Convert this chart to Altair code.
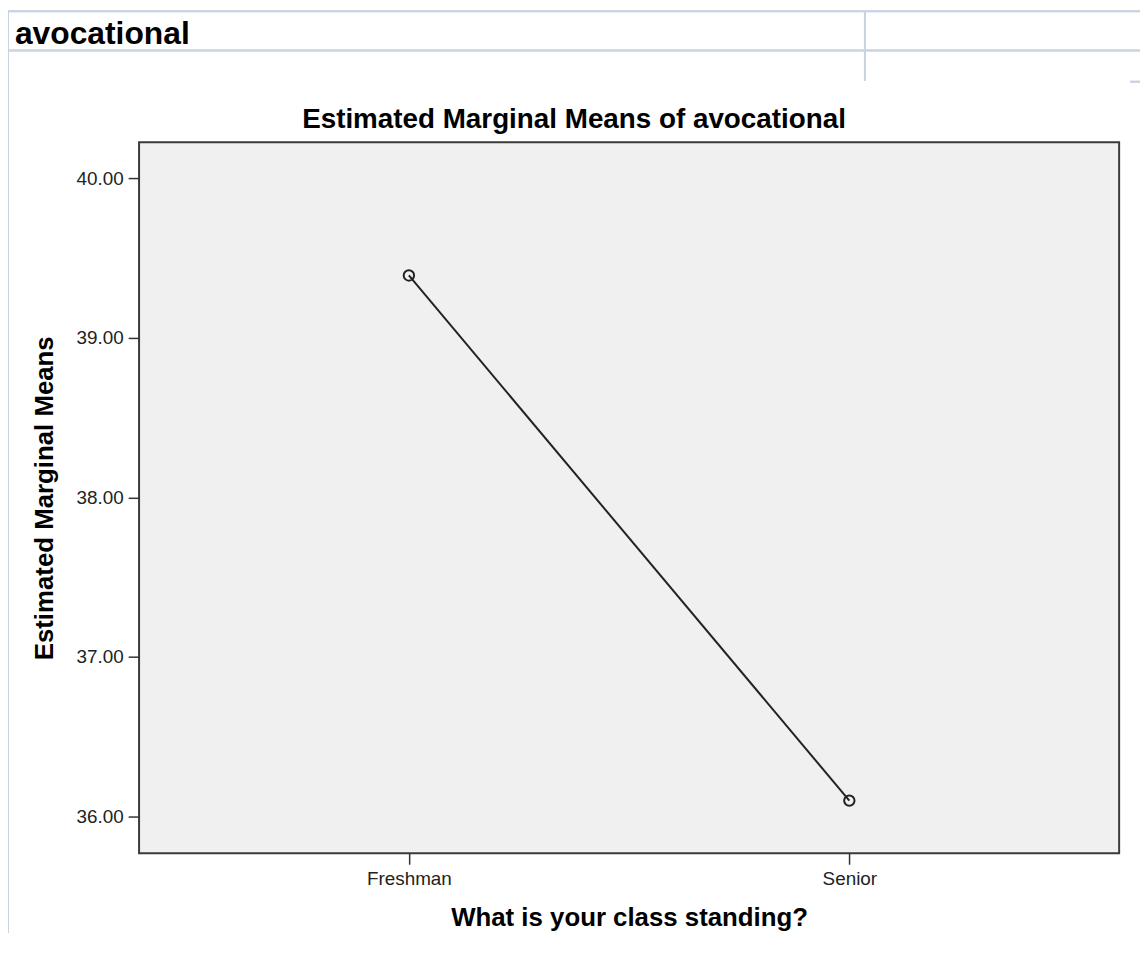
import altair as alt
import pandas as pd

# ---- data ----
classes = ["Freshman", "Senior"]
means = [39.39, 36.10]
y_ticks = [36, 37, 38, 39, 40]
header_text = ["avocational"]
title_text = ["Estimated Marginal Means of avocational"]

df = pd.DataFrame({"cls": classes, "mean": means})

PW, PH = 987, 716
FONT = "Liberation Sans"
LINE_C = "#c9d3e2"

x_enc = alt.X(
    "cls:N",
    sort=classes,
    scale=alt.Scale(type="point", padding=0.6126),
    axis=alt.Axis(
        title="What is your class standing?",
        labelAngle=0,
        labelFontSize=19,
        labelColor="#222222",
        labelFont=FONT,
        labelPadding=5,
        tickSize=11,
        tickColor="#333333",
        tickWidth=1.5,
        domain=False,
        titleFont=FONT,
        titleFontSize=26,
        titleFontWeight="bold",
        titleColor="#000000",
        titleX=PW / 2,
        titleY=73,
        titleAlign="center",
        titleBaseline="alphabetic",
    ),
)
y_enc = alt.Y(
    "mean:Q",
    scale=alt.Scale(domain=[35.77, 40.224], nice=False, zero=False),
    axis=alt.Axis(
        title="Estimated Marginal Means",
        values=y_ticks,
        format=".2f",
        grid=False,
        domain=False,
        labelFontSize=19,
        labelColor="#222222",
        labelFont=FONT,
        labelPadding=5,
        tickSize=11,
        tickColor="#333333",
        tickWidth=1.5,
        titleFont=FONT,
        titleFontSize=26,
        titleFontWeight="bold",
        titleColor="#000000",
        titleAngle=270,
        titleX=-87,
        titleY=PH / 2,
        titleAlign="center",
        titleBaseline="alphabetic",
    ),
)

base = alt.Chart(df)
line = base.mark_line(color="#222222", strokeWidth=2).encode(x=x_enc, y=y_enc)
pts = base.mark_point(
    shape="circle", filled=False, color="#222222", strokeWidth=2, size=110, opacity=1
).encode(x=x_enc, y=y_enc)

# header table decorations (output viewer frame)
def rule(x, x2, y, y2):
    return alt.Chart(df).mark_rule(color=LINE_C, strokeWidth=2).encode(
        x=alt.value(x), x2=alt.value(x2), y=alt.value(y), y2=alt.value(y2)
    )

r_top = rule(-132, 1010, -132, -132)
r_mid = rule(-132, 1010, -92.5, -92.5)
r_left = rule(-132, -132, -132, 800)
r_vert = rule(731, 731, -132, -62)
r_small = rule(998, 1010, -61, -61)

header = alt.Chart(pd.DataFrame({"t": header_text})).mark_text(
    align="left", baseline="alphabetic", font=FONT, fontSize=32, fontWeight="bold", color="#000000"
).encode(text="t:N", x=alt.value(-125), y=alt.value(-99.3))

title = alt.Chart(pd.DataFrame({"t": title_text})).mark_text(
    align="center", baseline="alphabetic", font=FONT, fontSize=28, fontWeight="bold", color="#000000"
).encode(text="t:N", x=alt.value(438), y=alt.value(-14))

chart = alt.layer(
    r_top, r_mid, r_left, r_vert, r_small, header, title, line, pts
).properties(
    width=PW,
    height=PH,
    autosize=alt.AutoSizeParams(type="none"),
    padding={"left": 132, "top": 132, "right": 21, "bottom": 77},
    background="#ffffff",
).configure_view(
    fill="#f0f0f0", stroke="#3a3a3a", strokeWidth=2
)

chart.save("out.html", embed_options={"renderer": "svg", "actions": False})
